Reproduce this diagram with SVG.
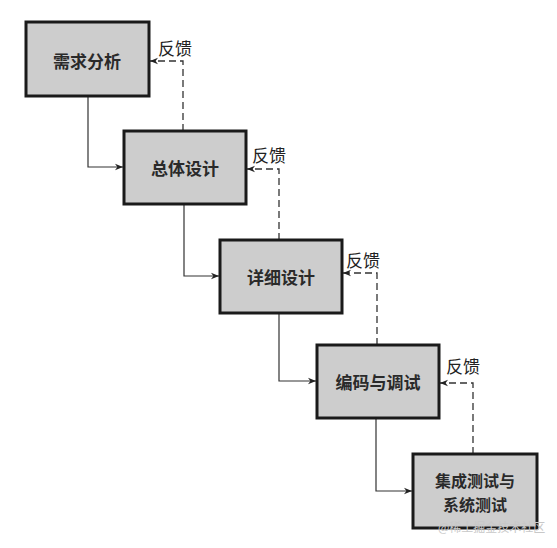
<svg xmlns="http://www.w3.org/2000/svg" width="557" height="548" viewBox="0 0 557 548">
<defs>
<style>
.box{fill:#cdcdcd;stroke:#1a1a1a;stroke-width:3}
.t{font-family:"Noto Sans CJK SC","Liberation Sans",sans-serif;font-size:17px;font-weight:bold;fill:#2a2a2a;text-anchor:middle;dominant-baseline:central}
.t2{font-size:16px}
.fb{font-family:"Noto Sans CJK SC","Liberation Sans",sans-serif;font-size:17px;fill:#222;dominant-baseline:central}
.solid{fill:none;stroke:#333;stroke-width:1.2}
.dash{fill:none;stroke:#333;stroke-width:1.3;stroke-dasharray:7 4}
.wm{font-family:"Noto Sans CJK SC","Liberation Sans",sans-serif;font-size:12px;fill:#c8c8c8}
</style>
<marker id="arr" viewBox="0 0 10 10" refX="10" refY="5" markerWidth="10" markerHeight="8" markerUnits="userSpaceOnUse" orient="auto">
<path d="M0,1 L10,5 L0,9 L3,5 Z" fill="#222"/>
</marker>
</defs>
<rect width="557" height="548" fill="#ffffff"/>
<g id="connectors">
<path class="solid" d="M88,96 V167 H123" marker-end="url(#arr)"/>
<path class="solid" d="M184,204 V276 H219" marker-end="url(#arr)"/>
<path class="solid" d="M279,313 V381 H316" marker-end="url(#arr)"/>
<path class="solid" d="M376,418 V491 H412" marker-end="url(#arr)"/>
<path class="dash" d="M183,131 V61 H150" marker-end="url(#arr)"/>
<path class="dash" d="M279,240 V169 H247" marker-end="url(#arr)"/>
<path class="dash" d="M377,345 V273 H343" marker-end="url(#arr)"/>
<path class="dash" d="M473,454 V383 H440" marker-end="url(#arr)"/>
<text class="fb" x="158" y="47">反馈</text>
<text class="fb" x="252" y="154">反馈</text>
<text class="fb" x="346" y="259">反馈</text>
<text class="fb" x="446" y="365">反馈</text>
</g>
<g id="n1"><rect class="box" x="26" y="22" width="123" height="74"/><text class="t" x="87" y="60">需求分析</text></g>
<g id="n2"><rect class="box" x="124" y="131" width="122" height="73"/><text class="t" x="185" y="167">总体设计</text></g>
<g id="n3"><rect class="box" x="220" y="240" width="122" height="73"/><text class="t" x="281" y="276">详细设计</text></g>
<g id="n4"><rect class="box" x="317" y="345" width="122" height="73"/><text class="t" x="378" y="381">编码与调试</text></g>
<g id="n5"><rect class="box" x="413" y="454" width="124" height="74"/><text class="t t2" x="475" y="480">集成测试与</text><text class="t t2" x="475" y="504">系统测试</text></g>
<text class="wm" x="438" y="532">@稀土掘金技术社区</text>
</svg>
